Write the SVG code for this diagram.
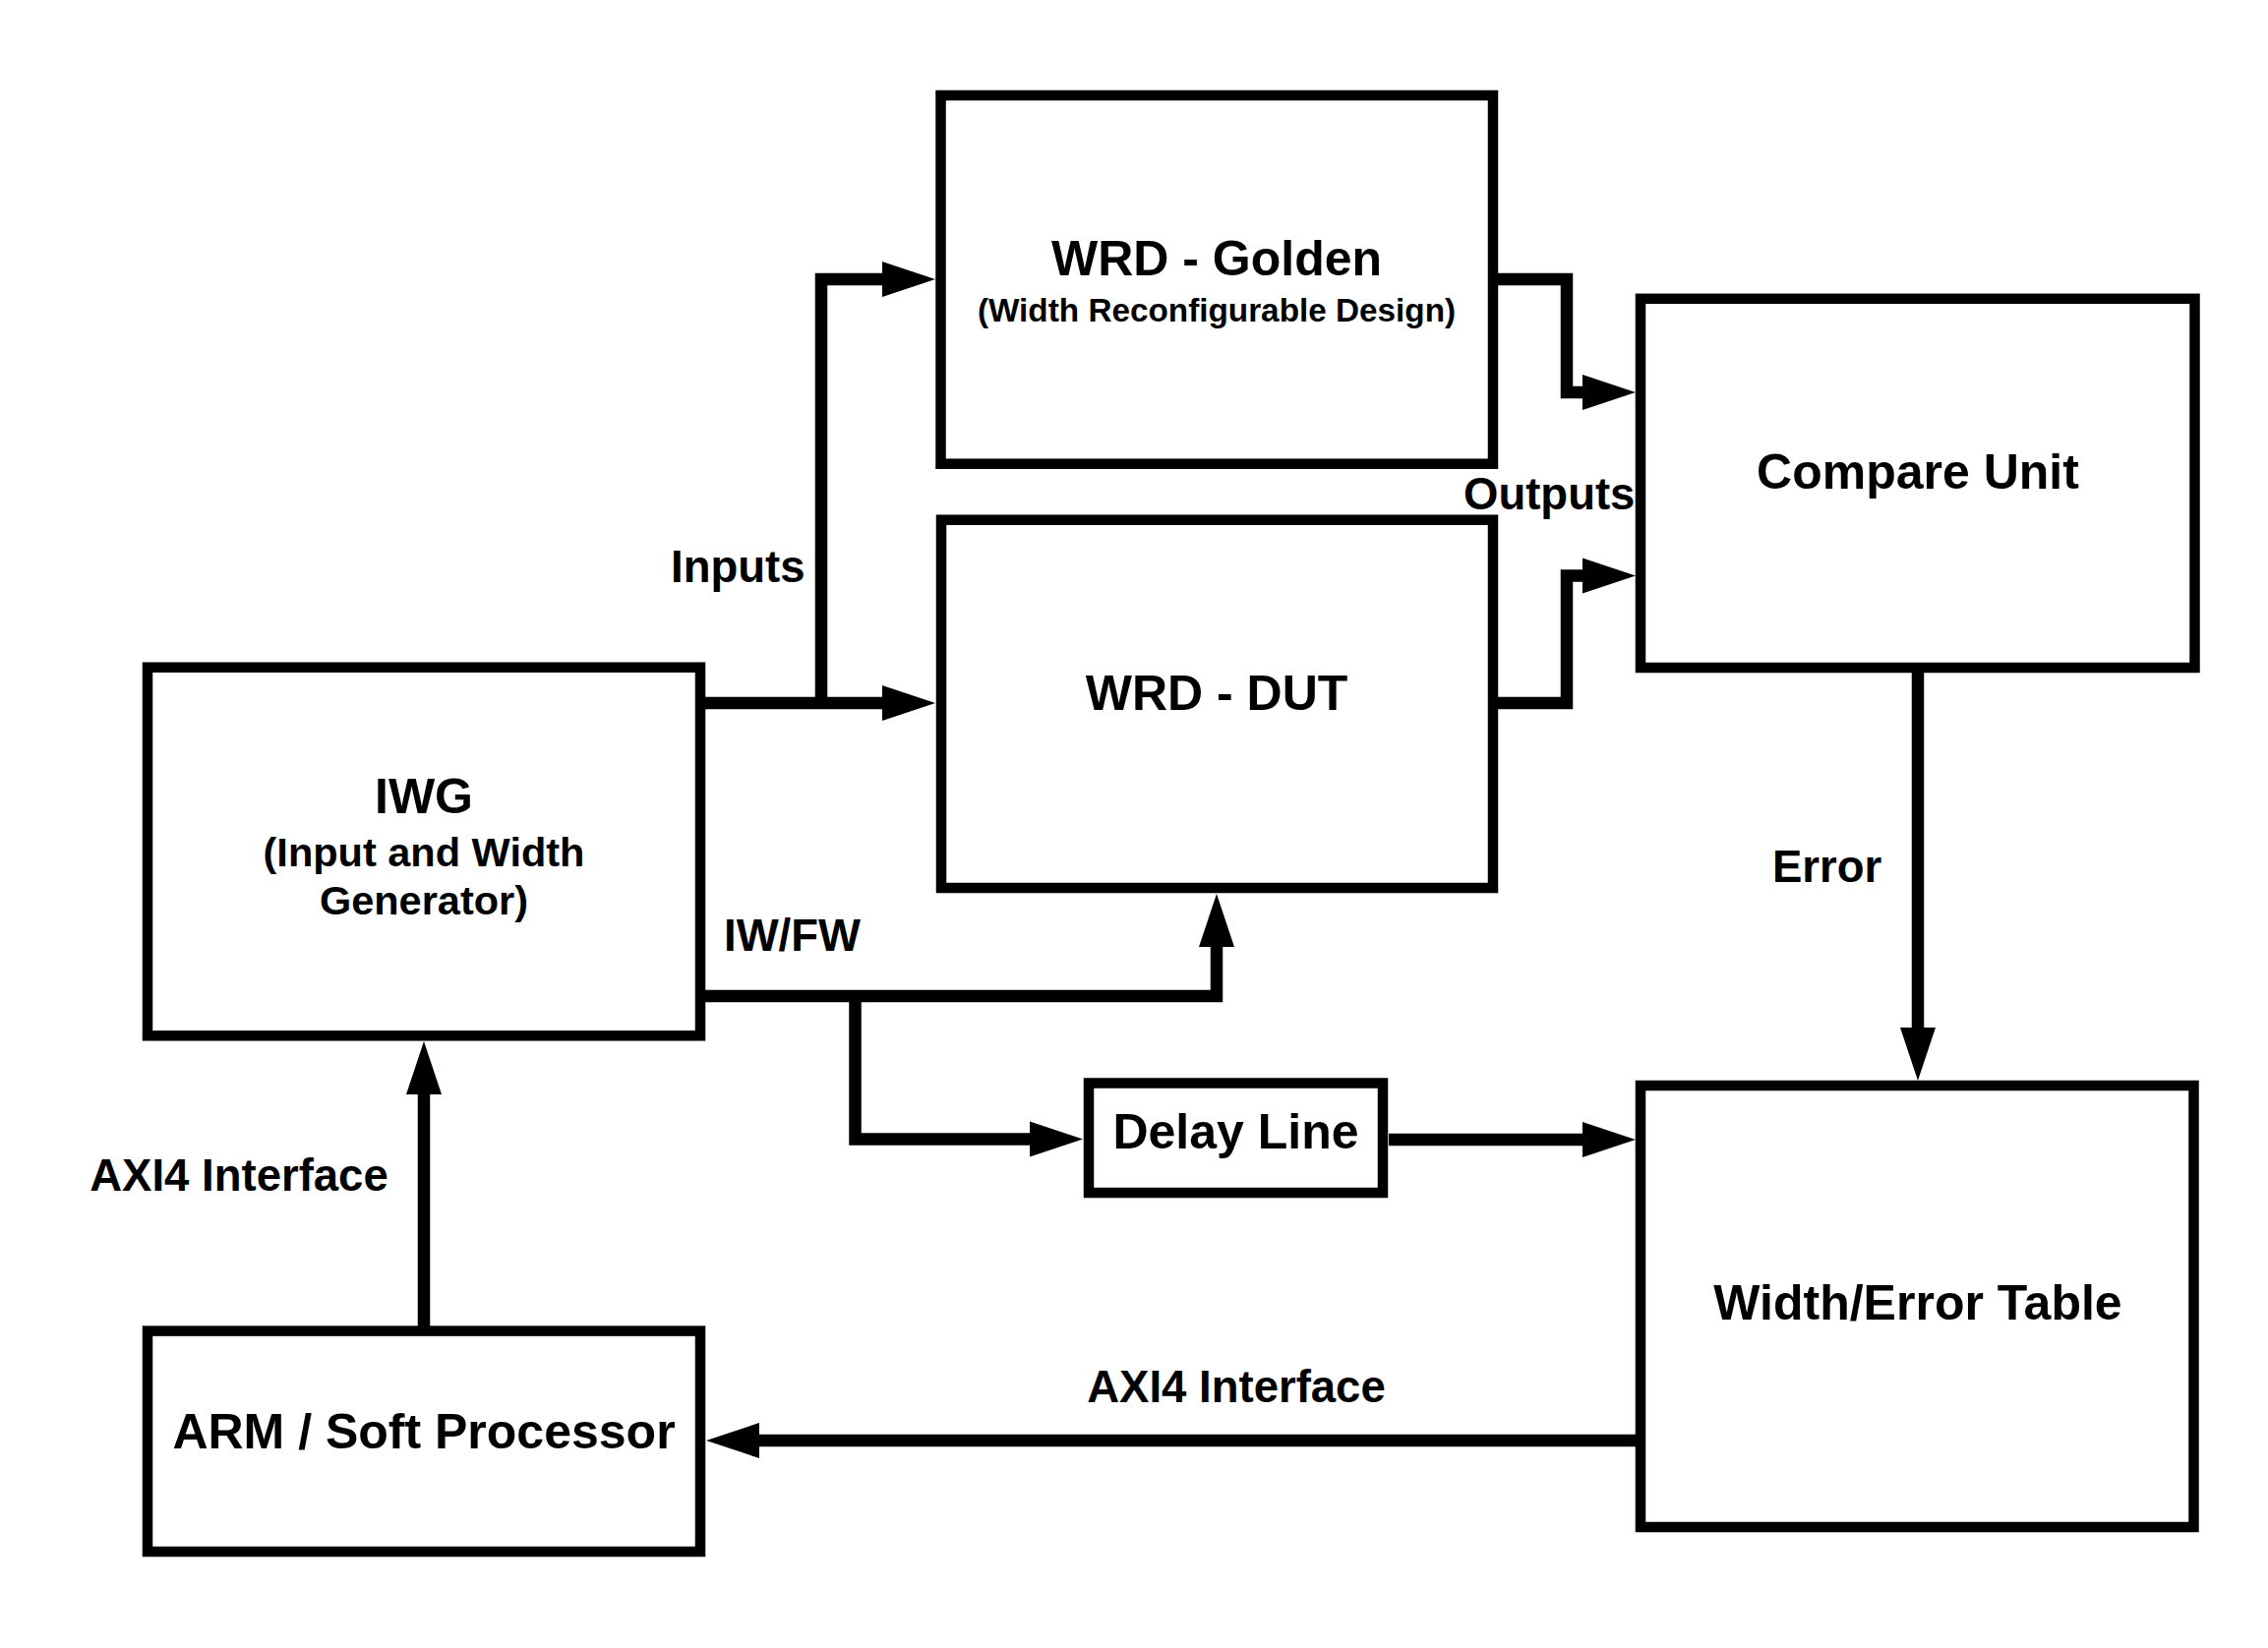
<svg xmlns="http://www.w3.org/2000/svg" width="2306" height="1676" viewBox="0 0 2306 1676">
<style>
.box{fill:#fff;stroke:#000;stroke-width:10.5}
.ln{fill:none;stroke:#000;stroke-width:12.5;stroke-linejoin:miter}
text{font-family:"Liberation Sans",Arial,sans-serif;font-weight:bold;fill:#000}
.t{font-size:50px;text-anchor:middle}
.s{font-size:41.5px;text-anchor:middle}
.l{font-size:45.5px}
</style>
<defs>
<marker id="ah" markerUnits="userSpaceOnUse" markerWidth="54" markerHeight="36" refX="0" refY="18" orient="auto" overflow="visible">
<path d="M0,0 L54,18 L0,36 Z" fill="#000"/>
</marker>
</defs>
<rect width="2306" height="1676" fill="#fff"/>
<g id="connectors">
<path class="ln" d="M712,715 H897" marker-end="url(#ah)"/>
<path class="ln" d="M835,715 V284 H897" marker-end="url(#ah)"/>
<path class="ln" d="M1518,284 H1593 V399 H1609" marker-end="url(#ah)"/>
<path class="ln" d="M1518,715 H1593 V585.5 H1609" marker-end="url(#ah)"/>
<path class="ln" d="M712,1013 H1237 V963" marker-end="url(#ah)"/>
<path class="ln" d="M869.5,1013 V1158.5 H1047" marker-end="url(#ah)"/>
<path class="ln" d="M1412,1159 H1609" marker-end="url(#ah)"/>
<path class="ln" d="M1950,679 V1045" marker-end="url(#ah)"/>
<path class="ln" d="M1668,1465 H772" marker-end="url(#ah)"/>
<path class="ln" d="M431,1353.6 V1113" marker-end="url(#ah)"/>
<text class="l" x="682" y="591.7">Inputs</text>
<text class="l" x="1488" y="518.3">Outputs</text>
<text class="l" x="736" y="966.7">IW/FW</text>
<text class="l" x="1802" y="897">Error</text>
<text class="l" x="243" y="1210.7" text-anchor="middle">AXI4 Interface</text>
<text class="l" x="1257" y="1426" text-anchor="middle">AXI4 Interface</text>
</g>
<g id="golden">
<rect class="box" x="956.5" y="97" width="561.5" height="374.7"/>
<text class="t" x="1237" y="280">WRD - Golden</text>
<text x="1237" y="327" font-size="33.3" text-anchor="middle">(Width Reconfigurable Design)</text>
</g>
<g id="dut">
<rect class="box" x="957" y="528.7" width="561" height="374.3"/>
<text class="t" x="1237" y="722">WRD - DUT</text>
</g>
<g id="iwg">
<rect class="box" x="150" y="678.7" width="562" height="374.6"/>
<text class="t" x="431" y="826.7">IWG</text>
<text class="s" x="431" y="881">(Input and Width</text>
<text class="s" x="431" y="930">Generator)</text>
</g>
<g id="arm">
<rect class="box" x="150" y="1353.6" width="562" height="224.4"/>
<text class="t" x="431" y="1473">ARM / Soft Processor</text>
</g>
<g id="compare">
<rect class="box" x="1668" y="303.8" width="563.5" height="375.2"/>
<text class="t" x="1950" y="497.3">Compare Unit</text>
</g>
<g id="delay">
<rect class="box" x="1107" y="1101.5" width="299" height="111.5"/>
<text class="t" x="1256.5" y="1168">Delay Line</text>
</g>
<g id="table">
<rect class="box" x="1668" y="1104" width="562.5" height="449"/>
<text class="t" x="1950" y="1342">Width/Error Table</text>
</g>
</svg>
